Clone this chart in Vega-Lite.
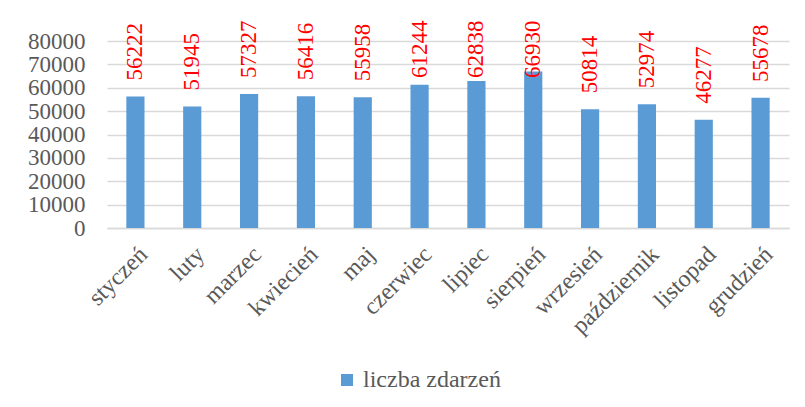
{
  "$schema": "https://vega.github.io/schema/vega-lite/v6.json",
  "width": 682,
  "height": 187,
  "autosize": {"type": "none"},
  "padding": {"left": 107, "top": 41, "right": 16, "bottom": 179},
  "background": "white",
  "config": {
    "font": "Liberation Serif",
    "view": {"stroke": null},
    "axis": {"labelFont": "Liberation Serif", "labelColor": "#595959", "labelFontSize": 23},
    "legend": {"labelFont": "Liberation Serif"},
    "text": {"font": "Liberation Serif"}
  },
  "data": {
    "values": [
      {"miesiac": "styczeń", "value": 56222},
      {"miesiac": "luty", "value": 51945},
      {"miesiac": "marzec", "value": 57327},
      {"miesiac": "kwiecień", "value": 56416},
      {"miesiac": "maj", "value": 55958},
      {"miesiac": "czerwiec", "value": 61244},
      {"miesiac": "lipiec", "value": 62838},
      {"miesiac": "sierpień", "value": 66930},
      {"miesiac": "wrzesień", "value": 50814},
      {"miesiac": "październik", "value": 52974},
      {"miesiac": "listopad", "value": 46277},
      {"miesiac": "grudzień", "value": 55678}
    ]
  },
  "encoding": {
    "x": {
      "field": "miesiac",
      "type": "nominal",
      "sort": null,
      "title": null,
      "scale": {"paddingInner": 0.68, "paddingOuter": 0.34},
      "axis": {
        "labelAngle": -45,
        "labelPadding": 14,
        "labelFontSize": 24,
        "ticks": false,
        "domainColor": "#d9d9d9",
        "domainWidth": 1.5
      }
    }
  },
  "layer": [
    {
      "mark": {"type": "bar", "color": "#5B9BD5"},
      "encoding": {
        "y": {
          "field": "value",
          "type": "quantitative",
          "title": null,
          "scale": {"domain": [0, 80000]},
          "axis": {
            "values": [0, 10000, 20000, 30000, 40000, 50000, 60000, 70000, 80000],
            "format": "d",
            "labelOverlap": false,
            "domain": false,
            "ticks": false,
            "labelPadding": 22,
            "gridColor": "#d9d9d9",
            "gridWidth": 1.5
          }
        },
        "color": {
          "datum": "liczba zdarzeń",
          "type": "nominal",
          "scale": {"range": ["#5B9BD5"]},
          "legend": {
            "title": null,
            "orient": "none",
            "legendX": 228,
            "legendY": 327,
            "symbolType": "square",
            "symbolSize": 144,
            "labelOffset": 4,
            "labelLimit": 0,
            "labelFontSize": 24,
            "labelColor": "#595959",
            "labelFont": "Liberation Serif"
          }
        }
      }
    },
    {
      "mark": {
        "type": "text",
        "angle": 270,
        "align": "left",
        "baseline": "middle",
        "dx": 16,
        "fontSize": 23,
        "color": "#FF0000",
        "font": "Liberation Serif"
      },
      "encoding": {
        "y": {
          "field": "value",
          "type": "quantitative",
          "scale": {"domain": [0, 57300], "range": [187, 53.1], "clamp": true},
          "axis": null
        },
        "text": {"field": "value", "type": "quantitative", "format": "d"}
      }
    }
  ],
  "resolve": {"scale": {"y": "independent"}}
}
